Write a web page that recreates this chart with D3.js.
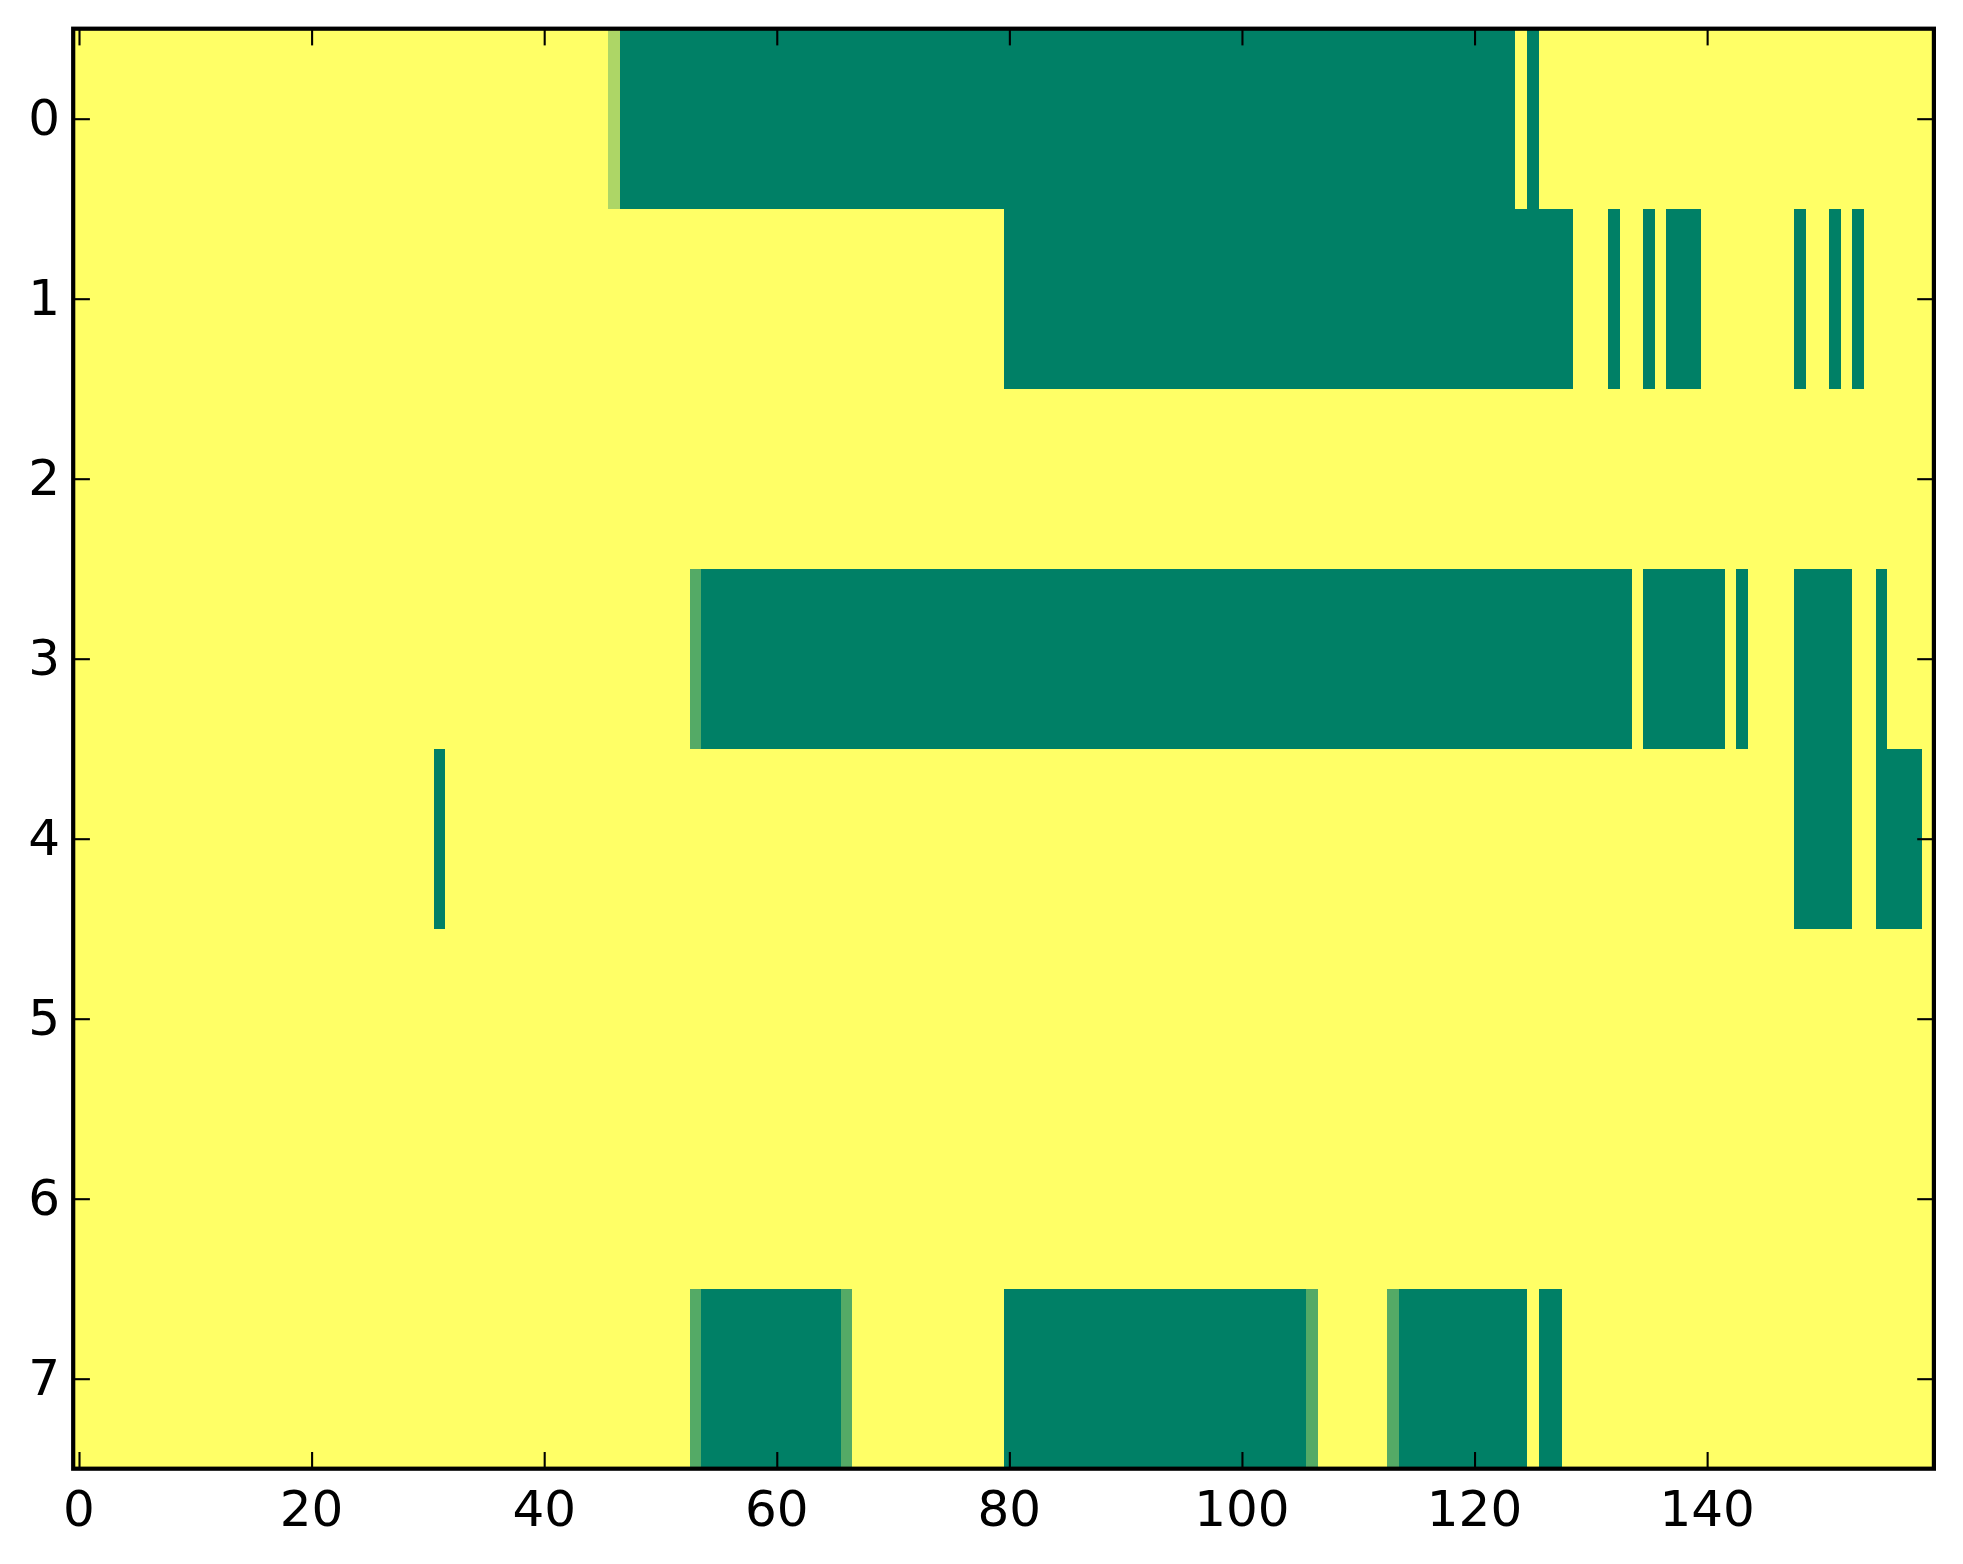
<!DOCTYPE html>
<html>
<head>
<meta charset="utf-8">
<script src="https://d3js.org/d3.v7.min.js"></script>
<style>
  body { margin: 0; background: #fff; }
  text { font-family: "DejaVu Sans", sans-serif; }
</style>
</head>
<body>
<div id="graph"></div>
<script>
// row labels and x tick values
var rowLabels = [0, 1, 2, 3, 4, 5, 6, 7];
var xTicks = [0, 20, 40, 60, 80, 100, 120, 140];
var nCols = 160;

// non-yellow runs per row: [firstCol, lastCol, value]  (everything else is 1)
var row0 = [[46, 46, 0.68], [47, 123, 0], [125, 125, 0]];
var row1 = [[80, 128, 0], [132, 132, 0], [135, 135, 0], [137, 139, 0],
            [148, 148, 0], [151, 151, 0], [153, 153, 0]];
var row2 = [];
var row3 = [[53, 53, 0.33], [54, 133, 0], [135, 141, 0], [143, 143, 0],
            [148, 152, 0], [155, 155, 0]];
var row4 = [[31, 31, 0], [148, 152, 0], [155, 158, 0]];
var row5 = [];
var row6 = [];
var row7 = [[53, 53, 0.33], [54, 65, 0], [66, 66, 0.33], [80, 105, 0],
            [106, 106, 0.33], [113, 113, 0.33], [114, 124, 0], [126, 127, 0]];
var rowRuns = [row0, row1, row2, row3, row4, row5, row6, row7];

var width = 1963, height = 1564;
// note: "top" is taken by window.top, so plot edges get their own names
var plotLeft = 73.2, plotRight = 1933.9, plotTop = 28.7, plotBottom = 1468.7;
var tickLen = 16.7;

// fill each row of the grid from the runs, then join equal neighbours
// into one block so no seams show between cells
var blocks = [];
rowRuns.forEach(function(runs, r){
  var row = [];
  for (var c = 0; c < nCols; c++) row.push(1);
  runs.forEach(function(run){
    for (var c = run[0]; c <= run[1]; c++) row[c] = run[2];
  });
  var start = 0;
  for (var c = 1; c <= nCols; c++) {
    if (c == nCols || row[c] != row[start]) {
      blocks.push({row: r, from: start, to: c - 1, value: row[start]});
      start = c;
    }
  }
});

var x = d3.scaleLinear().domain([-0.5, nCols - 0.5]).range([plotLeft, plotRight]);
var y = d3.scaleLinear().domain([-0.5, rowLabels.length - 0.5]).range([plotTop, plotBottom]);
// matplotlib "summer"
var color = d3.scaleLinear().domain([0, 1]).range(['#008066', '#ffff66']);

var svg = d3.select('#graph').append('svg')
  .attr('width', width).attr('height', height);

svg.append('g').attr('shape-rendering', 'crispEdges')
  .selectAll('rect').data(blocks).enter()
  .append('rect')
  .attr('x', function(d){ return x(d.from - 0.5); })
  .attr('y', function(d){ return y(d.row - 0.5); })
  .attr('width', function(d){ return x(d.to + 0.5) - x(d.from - 0.5); })
  .attr('height', function(d){ return y(d.row + 0.5) - y(d.row - 0.5); })
  .attr('fill', function(d){ return color(d.value); });

// inward ticks on all four sides
var xBottom = d3.axisTop(x).tickValues(xTicks).tickSize(tickLen).tickFormat('');
var xTop = d3.axisBottom(x).tickValues(xTicks).tickSize(tickLen).tickFormat('');
var yLeft = d3.axisRight(y).tickValues(rowLabels).tickSize(tickLen).tickFormat('');
var yRight = d3.axisLeft(y).tickValues(rowLabels).tickSize(tickLen).tickFormat('');

svg.append('g').attr('transform', 'translate(0,' + plotBottom + ')').call(xBottom);
svg.append('g').attr('transform', 'translate(0,' + plotTop + ')').call(xTop);
svg.append('g').attr('transform', 'translate(' + plotLeft + ',0)').call(yLeft);
svg.append('g').attr('transform', 'translate(' + plotRight + ',0)').call(yRight);
svg.selectAll('.domain').remove();
svg.selectAll('.tick line').attr('stroke', '#000').attr('stroke-width', 2.1);

// tick labels
svg.append('g').selectAll('text').data(xTicks).enter()
  .append('text')
  .attr('x', function(d){ return x(d); })
  .attr('y', 1526)
  .attr('text-anchor', 'middle')
  .attr('font-size', 50)
  .text(function(d){ return d; });

svg.append('g').selectAll('text').data(rowLabels).enter()
  .append('text')
  .attr('x', 60)
  .attr('y', function(d){ return y(d) + 16.5; })
  .attr('text-anchor', 'end')
  .attr('font-size', 50)
  .text(function(d){ return d; });

// frame
svg.append('rect')
  .attr('x', plotLeft).attr('y', plotTop)
  .attr('width', plotRight - plotLeft).attr('height', plotBottom - plotTop)
  .attr('fill', 'none')
  .attr('stroke', '#000')
  .attr('stroke-width', 4.2);
</script>
</body>
</html>
